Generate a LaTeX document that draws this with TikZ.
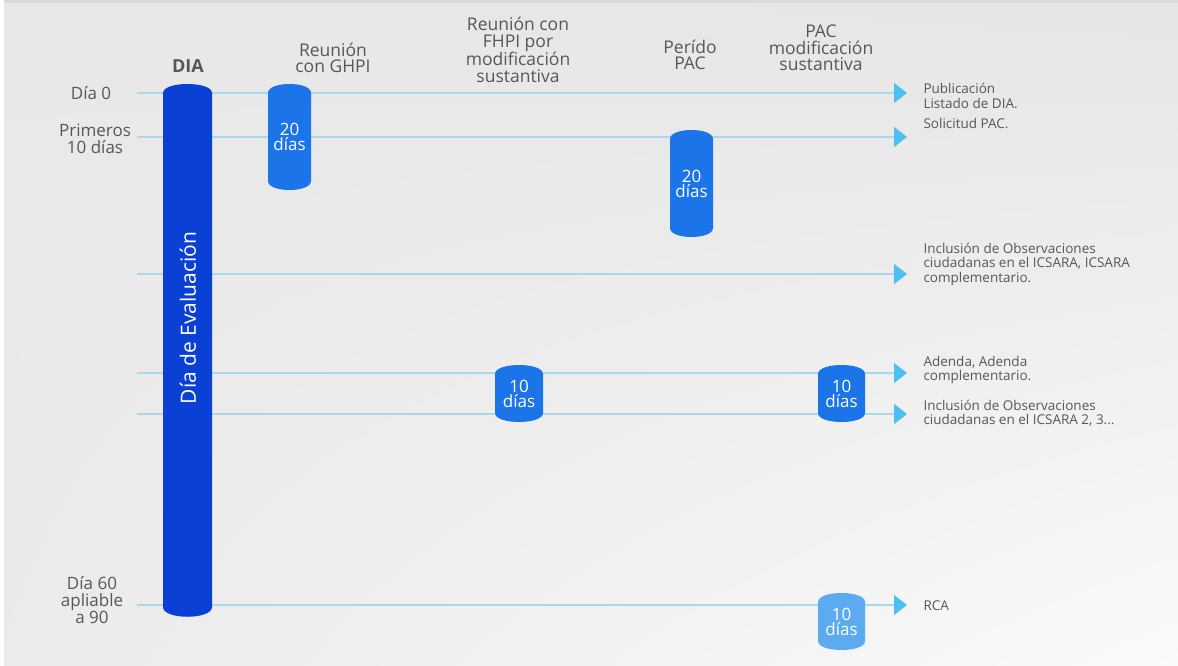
\documentclass[tikz,border=0pt]{standalone}
\usepackage{fontspec}
\setmainfont{Open Sans}
\usetikzlibrary{arrows.meta, positioning, shadings}
\definecolor{diablue}{HTML}{0A40D4}
\definecolor{boxblue}{HTML}{1B74E8}
\definecolor{lightbox}{HTML}{5CABF0}
\definecolor{lineblue}{HTML}{A8D8EC}
\definecolor{tipblue}{HTML}{4EC0EF}
\definecolor{labelgray}{HTML}{575757}
\tikzset{
  timeline/.style={draw=lineblue, line width=1.6pt,
    -{Triangle[length=13pt,width=20pt,color=tipblue]}},
  headlabel/.style={text=labelgray, align=center, font=\fontsize{17.5}{16.5}\selectfont},
  sidelabel/.style={text=labelgray, align=center, font=\fontsize{17}{17}\selectfont},
  eventlabel/.style={text=labelgray, align=left, anchor=west, font=\fontsize{13.5}{14.5}\selectfont},
  daytext/.style={text=white, align=center, font=\fontsize{17}{15}\selectfont}
}
% name, x, top, bottom, half width, colour, text
\newcommand{\capsule}[7]{%
  \fill[#6] (#2-#5,#3+9) .. controls (#2-#5,#3-3) and (#2+#5,#3-3) .. (#2+#5,#3+9)
    -- (#2+#5,#4-9) .. controls (#2+#5,#4+3) and (#2-#5,#4+3) .. (#2-#5,#4-9) -- cycle;
  \node[daytext] (#1) at (#2,{(#3+#4)/2}) {#7};}

\begin{document}
\begin{tikzpicture}[x=1pt,y=-1pt]
  \useasboundingbox (0,0) rectangle (1178,665);
  \fill[white] (0,0) rectangle (1178,665);
  \fill[black!15] (4,0) rectangle (1178,3);
  \shade[upper left=black!9, upper right=black!10, lower left=black!8, lower right=black!2]
    (4,3) rectangle (1178,665);

  % time rows
  \coordinate (s0) at (137,93);  \coordinate (e0) at (907,93);
  \coordinate (s1) at (137,137); \coordinate (e1) at (907,137);
  \coordinate (s2) at (137,274); \coordinate (e2) at (907,274);
  \coordinate (s3) at (137,373); \coordinate (e3) at (907,373);
  \coordinate (s4) at (137,414); \coordinate (e4) at (907,414);
  \coordinate (s5) at (137,605); \coordinate (e5) at (907,605);
  \draw[timeline] (s0) -- (e0);
  \draw[timeline] (s1) -- (e1);
  \draw[timeline] (s2) -- (e2);
  \draw[timeline] (s3) -- (e3);
  \draw[timeline] (s4) -- (e4);
  \draw[timeline] (s5) -- (e5);

  % DIA bar
  \fill[diablue] (163,93) .. controls (163,81) and (212,81) .. (212,93)
    -- (212,607) .. controls (212,620) and (163,620) .. (163,607) -- cycle;
  \node[text=white, rotate=90, font=\fontsize{21}{22}\selectfont] (evaluacion) at (188,318) {Día de Evaluación};

  % day boxes
  \capsule{ghpi}{289.5}{84}{190}{21.5}{boxblue}{20\\días}
  \capsule{pac}{691.5}{130}{237}{21.5}{boxblue}{20\\días}
  \capsule{fhpi}{519}{365}{422}{24}{boxblue}{10\\días}
  \capsule{pacmod}{841.5}{365}{422}{23.5}{boxblue}{10\\días}
  \capsule{rca}{841.5}{593}{650}{23.5}{lightbox}{10\\días}

  % column heads
  \node[headlabel, font=\fontsize{18}{16.5}\selectfont\bfseries] (hdia) at (188,66) {DIA};
  \node[headlabel] (hghpi) at (333,58) {Reunión\\con GHPI};
  \node[headlabel] (hfhpi) at (518,50) {Reunión con\\FHPI por\\modificación\\sustantiva};
  \node[headlabel] (hpac) at (690,55) {Perído\\PAC};
  \node[headlabel] (hpacmod) at (821,48) {PAC\\modificación\\sustantiva};

  % left labels
  \node[sidelabel] (ldia0) at (91,93) {Día 0};
  \node[sidelabel] (lprim) at (95,139) {Primeros\\10 días};
  \node[sidelabel] (ldia60) at (92,600) {Día 60\\apliable\\a 90};

  % right labels
  \node[eventlabel] (rpub) at (920,96) {Publicación\\Listado de DIA.};
  \node[eventlabel] (rsol) at (920,123) {Solicitud PAC.};
  \node[eventlabel] (ricsara) at (920,264) {Inclusión de Observaciones\\ciudadanas en el ICSARA, ICSARA\\complementario.};
  \node[eventlabel] (radenda) at (920,370) {Adenda, Adenda\\complementario.};
  \node[eventlabel] (ricsara2) at (920,413) {Inclusión de Observaciones\\ciudadanas en el ICSARA 2, 3...};
  \node[eventlabel] (rrca) at (920,606) {RCA};
\end{tikzpicture}
\end{document}
